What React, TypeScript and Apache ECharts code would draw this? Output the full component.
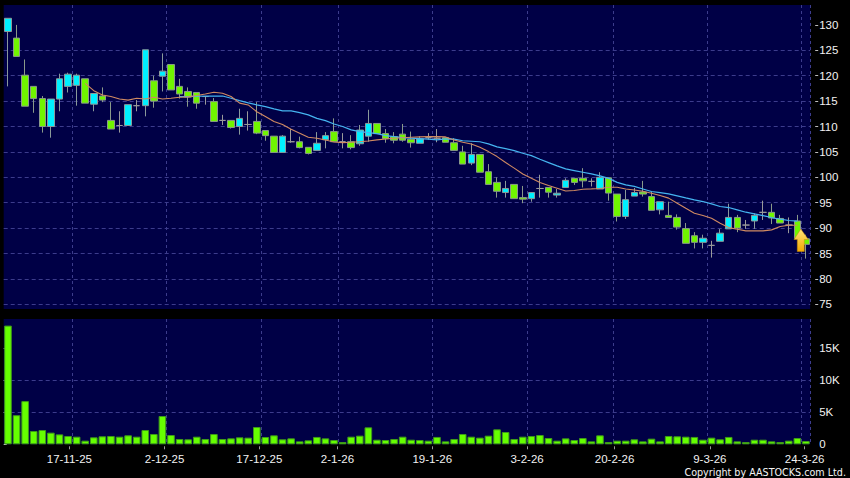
import React, { useEffect, useRef } from "react";
import * as echarts from "echarts";

const opens = [128.7,127.4,120.1,117.9,115.5,110,115.4,117.9,118.1,119.4,114.4,116,111.2,110.2,110.2,114.1,114.1,119,119.9,122.2,117.9,116.9,116.7,115.9,114.9,111.2,111.2,110,110.4,111,109.2,108.1,104.9,107,107,105.9,105.3,107.4,109,107,107,106.6,108.1,110.6,108.6,108,108.5,107.5,106.7,107.8,107.7,107.8,106.8,105,102.8,104.5,101.1,99,97,98.6,96,95.8,97.8,98,96.5,98,99.8,99.8,99.2,97.7,99.9,96.7,92.3,96.3,97.1,96.2,93.6,92.5,92.1,89.9,88.5,87.2,86.6,87.4,89.85,92.1,90.6,91.4,93.1,93.1,91.9,90.6,91.4,87.9];
const closes = [131.3,123.8,114,115.5,110,115.4,119.4,120.3,120.1,114.6,116.5,115.2,109.5,110.2,114.3,114.1,125.1,115,120.9,117.2,116.4,115.8,114.6,115.9,111,111.2,109.8,111.6,110.4,108.7,108.2,104.9,108.1,107,105.85,104.7,106.7,108.2,107,107,105.85,109.3,110.6,108.6,107.6,107.3,107.3,106.8,107.55,107.8,107.7,106.9,105.3,102.6,104.5,101,98.6,97.25,97.8,95.8,95.7,97,97.8,97.07,96.87,99.4,99,99.3,99.2,100,96.9,92.3,95.6,97,96.7,93.5,95.2,92.1,90.2,87,87.2,88,86.6,89,92.1,90,90.6,92.5,93.1,92,91,90.6,88,86.8];
const lows = [117.9,123.8,114,112.7,108.8,107.8,113,116.7,114.1,114.6,113,114.8,109.5,108.8,110.2,113,112,113.7,116.9,117.2,115.5,113.9,113.5,114.3,111,110.3,109.6,108.4,109.2,108.5,107.2,104.9,104.9,106.8,105.7,104.5,105.3,105.7,107,105.7,105.5,106.2,107,108.6,106.8,106.7,107,105.85,106.7,107.4,106.9,106.9,105.3,102.6,102.4,101,98.6,96,96,95.8,94.9,95.2,96,96,96,98,98.5,98,98.2,97.7,95.4,91.3,91.8,96.3,96.2,93.5,92.7,92,89.7,87,86,86,84.2,87.4,89.85,89.2,89.85,89.85,91.6,90.8,91,89,88,84];
const highs = [131.3,130,123.2,117.9,116,115.4,120.4,120.6,120.4,119.4,116.5,117.7,114.8,113,114.3,115.2,125.1,120,124.4,122.2,119.4,117.7,116.7,115.9,115.6,112.3,111.2,113.5,113,114.8,109.2,108.1,108.3,109.5,108,105.9,108.9,108.9,111.6,108.7,108.3,110.3,113.3,110.6,109.5,108.9,110.5,109,108.1,108.7,109.5,107.8,107.7,106.2,106.7,104.5,102.6,100,99.3,98.6,98.3,97,100.5,98,97.7,99.8,99.8,101.8,99.8,101,99.9,96.7,97.5,97.9,99.3,97.2,95.2,95.2,92.7,91,89.2,88.7,87.5,89.8,94.8,92.6,91.6,92.9,95.4,94.8,92.6,92.1,92.6,88.7];
const maShort = [null,null,null,null,null,null,null,null,null,118.5,117.05,116.2,115.9,115.4,115.2,115.56,115.43,115.76,115.43,115.56,115.76,115.83,116.09,116.4,116.74,116.55,115.9,114.6,114.25,112.9,111.95,111,110.4,109.45,108.67,107.9,107.7,107.36,106.96,106.83,106.9,107,107.16,107.36,107.55,107.7,107.8,107.9,107.95,108,108,107.95,107.36,106.9,106.57,105.9,105.06,104.08,102.9,101.8,100.66,99.8,98.96,98.4,97.85,97.3,97.4,97.66,97.72,97.8,98.05,98.05,97.7,97.5,97.26,96.87,96.4,95.9,94.9,93.9,92.93,92.47,91.95,90.96,90.1,89.78,89.45,89.45,89.45,89.65,90.3,90.57,90.57,null];
const maLong = [null,null,null,null,null,null,null,null,null,null,null,null,null,null,null,null,null,null,null,null,115.9,115.9,115.96,116,116,116,115.56,115.1,114.65,114.25,113.92,113.46,113.07,113.07,112.74,112.28,111.6,111.16,110.5,110,109.33,109,108.8,108.6,108.2,108,107.8,107.7,107.6,107.5,107.36,107.55,107.5,107.2,107.1,107,106.57,106,105.65,105.26,104.73,104.27,103.55,102.9,102.25,101.66,101.33,101,100.67,100.28,99.8,99,98.5,98.2,97.7,97.2,97,96.74,96.35,95.95,95.56,95.23,94.77,94.25,94.05,93.6,93.13,92.8,92.47,92.08,91.75,91.5,91.36,null];
const volumesK = [18.55,4.55,6.75,2.08,2.23,1.82,1.55,1.3,1.19,0.57,1.09,1.25,1.3,1.19,1.4,1.19,2.23,1.61,4.42,1.45,0.83,0.78,1.19,0.83,1.61,0.83,0.93,1.09,1.04,2.7,1.14,1.4,0.78,0.93,0.46,0.62,1.15,0.93,0.67,0.35,1.19,1.35,2.65,0.72,0.67,0.83,1.19,0.72,0.67,0.57,1.15,0.46,0.83,1.61,1.19,1.04,1.35,2.34,1.92,0.83,1.19,1.3,1.45,0.98,0.57,0.93,0.67,0.98,0.46,1.4,0.35,0.57,0.57,0.78,0.46,0.88,0.46,1.3,1.25,1.19,1.15,0.72,1.04,0.78,1.15,0.46,0.35,0.72,0.72,0.46,0.35,0.57,0.98,0.51];
const dateLabels = ["17-11-25","2-12-25","17-12-25","2-1-26","19-1-26","3-2-26","20-2-26","9-3-26","24-3-26"];
const dateLabelSlots = [7.65,18.75,29.8,38.9,49.95,61,71.2,82.3,93.35];
const dividerSlots = [8,19,30,39,50,61,71,82,93];
const priceTicks = [75,80,85,90,95,100,105,110,115,120,125,130];
const volumeTicks = [0,5,10,15];
const slots = opens.map((_, i) => String(i));

const GRID_LEFT = 3.7;
const GRID_W = 806.5;
const BG = "#000046";
const GRID_LINE = "#3c3c8c";
const TEXT = "#f2f2f2";
const FONT = "'Liberation Sans', Arial, sans-serif";
const gridLine = { show: true, lineStyle: { color: GRID_LINE, type: [4, 3] as any, width: 1 } };
const dividers = {
  show: true,
  interval: (i: number) => dividerSlots.includes(i),
  lineStyle: { color: GRID_LINE, type: [3, 3] as any, width: 1 },
};

export default function App() {
  const ref = useRef<HTMLDivElement>(null);
  useEffect(() => {
    document.body.style.margin = "0";
    document.body.style.background = "#000";
    const chart = echarts.init(ref.current!, undefined, { renderer: "svg" });
    chart.setOption({
      animation: false,
      backgroundColor: "#000",
      grid: [
        { left: GRID_LEFT, width: GRID_W, top: 5, height: 299.3 },
        { left: GRID_LEFT, width: GRID_W, top: 319, height: 125.3, show: true, backgroundColor: BG, borderWidth: 0 },
      ],
      graphic: [
        { type: "rect", z: -10, silent: true, shape: { x: GRID_LEFT, y: 5, width: GRID_W, height: 304 }, style: { fill: BG } },
        {
          type: "polygon", z: 50, silent: true,
          shape: { points: [[800.8,229],[808.3,239.5],[804.3,239.5],[804.3,251.5],[797.3,251.5],[797.3,239.5],[794,239.5]] },
          style: {
            fill: new echarts.graphic.LinearGradient(0, 0, 0, 1, [
              { offset: 0, color: "#ffe27a" },
              { offset: 1, color: "#f2a900" },
            ]),
            stroke: "#c98a00", lineWidth: 0.5,
          },
        },
        {
          type: "text", z: 50, silent: true, x: 846, y: 472,
          style: { text: "Copyright by AASTOCKS.com Ltd.", fill: "#f4f4f4", font: "9.6px 'DejaVu Sans', sans-serif", align: "right", verticalAlign: "middle" },
        },
      ],
      xAxis: [
        { type: "category", gridIndex: 0, data: slots, boundaryGap: true, axisLine: { show: false }, axisTick: { show: false }, axisLabel: { show: false }, splitLine: dividers },
        { type: "category", gridIndex: 1, data: slots, boundaryGap: true, axisLine: { show: false }, axisTick: { show: false }, axisLabel: { show: false }, splitLine: dividers },
        {
          type: "value", gridIndex: 1, position: "bottom", offset: 2, min: 0, max: opens.length,
          axisLine: { show: false },
          splitLine: { show: false },
          axisTick: { show: true, length: 3, customValues: dateLabelSlots, lineStyle: { color: "#9a9a9a" } },
          axisLabel: {
            show: true, customValues: dateLabelSlots, color: TEXT, fontFamily: FONT, fontSize: 11.5, margin: 7,
            formatter: (v: number) => dateLabels[dateLabelSlots.indexOf(v)] ?? "",
          },
        },
      ],
      yAxis: [
        {
          type: "value", gridIndex: 0, position: "right", offset: 5, min: 75, max: 133.92, interval: 5, scale: true,
          axisLine: { show: false },
          axisTick: { show: true, length: 3, customValues: priceTicks, lineStyle: { color: "#bdbdbd" } },
          axisLabel: { customValues: priceTicks, color: TEXT, fontFamily: FONT, fontSize: 11.5, margin: 4 },
          splitLine: { ...gridLine, showMaxLine: false },
        },
        {
          type: "value", gridIndex: 1, position: "right", offset: 5, min: 0, max: 19.58, interval: 5,
          axisLine: { show: false },
          axisTick: { show: true, length: 3, customValues: volumeTicks, lineStyle: { color: "#bdbdbd" } },
          axisLabel: { customValues: volumeTicks, color: TEXT, fontFamily: FONT, fontSize: 11.5, margin: 4, formatter: (v: number) => (v === 0 ? "0" : `${v}K`) },
          splitLine: { ...gridLine, showMaxLine: false, showMinLine: false },
        },
      ],
      series: [
        {
          type: "candlestick", xAxisIndex: 0, yAxisIndex: 0, barWidth: 7, z: 3,
          data: opens.map((o, i) => [o, closes[i], lows[i], highs[i]]),
          itemStyle: { color: "#00f0ff", color0: "#70f500", borderColor: "#8a9a9a", borderColor0: "#8a9a8a", borderColorDoji: "#9a9a9a", borderWidth: 1 },
        },
        {
          type: "line", xAxisIndex: 0, yAxisIndex: 0, data: maLong, showSymbol: false, symbol: "none", z: 4,
          smooth: false, connectNulls: false, lineStyle: { color: "#45b4f0", width: 1.2 },
        },
        {
          type: "line", xAxisIndex: 0, yAxisIndex: 0, data: maShort, showSymbol: false, symbol: "none", z: 5,
          smooth: false, connectNulls: false, lineStyle: { color: "#d08a62", width: 1.1 },
        },
        {
          type: "bar", xAxisIndex: 1, yAxisIndex: 1, data: volumesK, barWidth: 7.6, z: 3,
          itemStyle: { color: "#66ff00", borderColor: "#3f9a1a", borderWidth: 1 },
        },
      ],
    });
    return () => chart.dispose();
  }, []);
  return <div ref={ref} style={{ width: 850, height: 478, background: "#000" }} />;
}
